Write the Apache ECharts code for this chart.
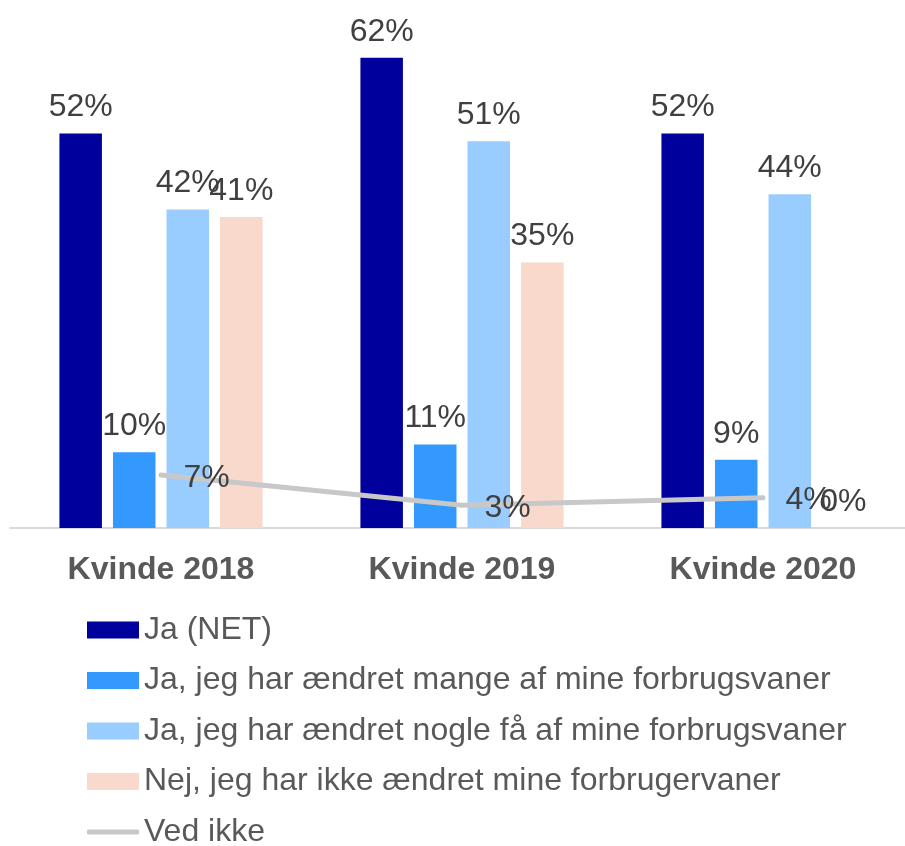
<!DOCTYPE html>
<html><head><meta charset="utf-8">
<script src="https://cdn.jsdelivr.net/npm/echarts@6/dist/echarts.min.js"></script>
<style>html,body{margin:0;padding:0;background:#fff}#c{width:905px;height:846px}</style>
</head><body><div id="c"></div>
<script>
const categories = ['Kvinde 2018', 'Kvinde 2019', 'Kvinde 2020'];
const jaNet = [52, 62, 52];
const jaMange = [10, 11, 9];
const jaNogle = [42, 51, 44];
const nej = [41, 35, 0];
const vedIkke = [7, 3, 4];
const names = ['Ja (NET)', 'Ja, jeg har ændret mange af mine forbrugsvaner', 'Ja, jeg har ændret nogle få af mine forbrugsvaner', 'Nej, jeg har ikke ændret mine forbrugervaner', 'Ved ikke'];
const colors = ['#00009C', '#3399FF', '#99CCFF', '#F9D9CB', '#C8C8C8'];

const FONT = 'Liberation Sans, Arial, sans-serif';
const lbl = {show: true, position: 'top', distance: 10, formatter: '{c}%', color: '#404040', fontSize: 32, fontFamily: FONT};
function bar(i, data) {
  return {name: names[i], type: 'bar', data: data, barWidth: 42.5, barGap: '26%',
    itemStyle: {color: colors[i]}, label: lbl, z: 2};
}
const legendText = {fontSize: 32, color: '#595959', fontFamily: FONT, lineHeight: 34, padding: [0, 0, 0, 0]};
const chart = echarts.init(document.getElementById('c'));
chart.setOption({
  animation: false,
  grid: {left: 10.5, width: 903, top: 35, bottom: 318, containLabel: false, outerBoundsMode: 'none'},
  legend: [{
    orient: 'vertical', left: 87, top: 613, padding: 0,
    itemWidth: 52, itemHeight: 17, itemGap: 16.5, icon: 'rect',
    textStyle: legendText,
    data: names.slice(0, 4)
  }, {
    orient: 'vertical', left: 87, top: 815, padding: 0,
    itemWidth: 52, itemHeight: 5,
    textStyle: legendText,
    data: [{name: names[4], icon: 'roundRect', itemStyle: {color: colors[4], opacity: 1}}]
  }],
  xAxis: {
    type: 'category', data: categories,
    axisLine: {lineStyle: {color: '#d9d9d9', width: 2}},
    axisTick: {show: false},
    axisLabel: {fontSize: 32, fontWeight: 'bold', color: '#595959', fontFamily: FONT, margin: 26}
  },
  yAxis: {type: 'value', min: 0, max: 65, show: false, splitLine: {show: false}},
  series: [
    bar(0, jaNet), bar(1, jaMange), bar(2, jaNogle), bar(3, nej),
    {name: names[4], type: 'line', data: vedIkke, symbol: 'circle', symbolSize: 1, showSymbol: true, z: 3,
      lineStyle: {color: colors[4], width: 5, cap: 'round'}, itemStyle: {color: 'rgba(0,0,0,0)'},
      label: {show: true, position: 'right', distance: 22, offset: [0, 3], formatter: '{c}%', color: '#404040', fontSize: 32, fontFamily: FONT}}
  ]
});
</script></body></html>
